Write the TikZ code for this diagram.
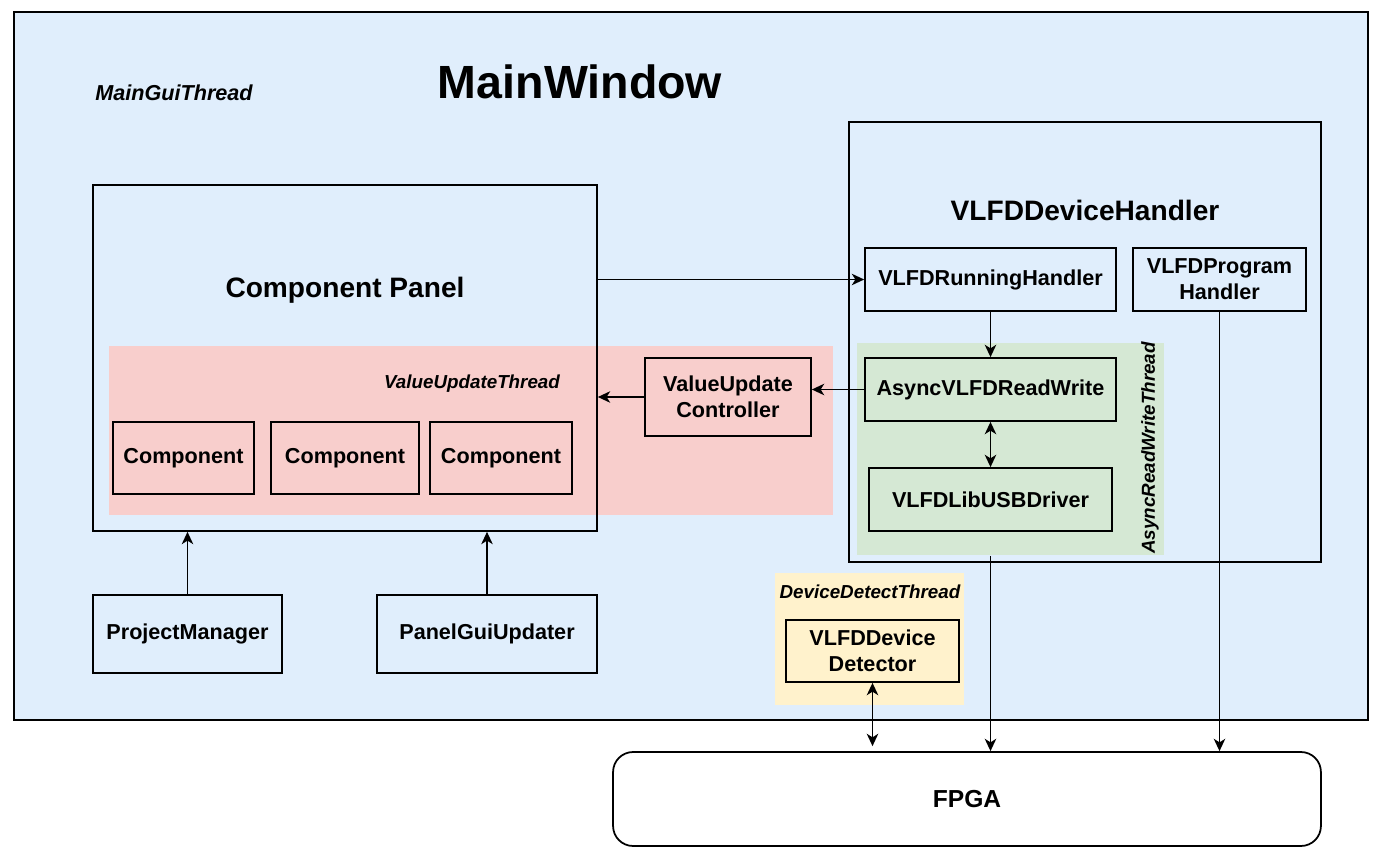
\documentclass[tikz,border=0pt]{standalone}
\usepackage{fontspec}
\setmainfont{Liberation Sans}
\usepackage{xcolor}
\usepackage{tikz}
\usetikzlibrary{arrows.meta}
\definecolor{guiblue}{RGB}{224,238,252}
\definecolor{valuepink}{HTML}{F8CECC}
\definecolor{asyncgreen}{HTML}{D5E8D4}
\definecolor{detectyellow}{HTML}{FFF2CC}
\tikzset{edge/.style = {->,> = {Stealth[length=7pt,width=6.5pt,inset=2pt]}, line width=1pt}}
\tikzset{dedge/.style = {<->,> = {Stealth[length=7pt,width=6.5pt,inset=2pt]}, line width=1pt}}

\begin{document}
\begin{tikzpicture}[x=0.02cm,y=-0.02cm,line width=1pt,
    box/.style={rectangle,draw,inner sep=0pt,align=center,font=\fontsize{12.3}{14.7}\selectfont\bfseries},
    region/.style={rectangle,inner sep=0pt},
    title/.style={font=\fontsize{16}{19}\selectfont\bfseries},
    thread/.style={font=\fontsize{10.7}{12}\selectfont\bfseries\itshape}]
    \useasboundingbox (0,0) rectangle (1390,858);

    % regions
    \node[region,draw,fill=guiblue,minimum width=27.08cm,minimum height=14.16cm] (mainthread) at (691,366) {};
    \node[region,fill=valuepink,minimum width=14.48cm,minimum height=3.38cm] (valuethread) at (471,430.5) {};
    \node[region,fill=asyncgreen,minimum width=6.14cm,minimum height=4.24cm] (asyncthread) at (1010.5,449) {};
    \node[region,fill=detectyellow,minimum width=3.78cm,minimum height=2.64cm] (detectthread) at (869.5,639) {};

    % labels
    \node[font=\fontsize{26.5}{30}\selectfont\bfseries] (mainwindow) at (580,82) {MainWindow};
    \node[thread,font=\fontsize{12.3}{14}\selectfont\bfseries\itshape] (guilabel) at (174,93) {MainGuiThread};
    \node[thread] (valuelabel) at (472,384) {ValueUpdateThread};
    \node[thread,rotate=90] (asynclabel) at (1150,448) {AsyncReadWriteThread};
    \node[thread] (detectlabel) at (870,592) {DeviceDetectThread};

    % main window parts
    \node[box,minimum width=10.08cm,minimum height=6.92cm] (cpanel) at (345,358) {};
    \node[title] (cpaneltitle) at (345,290) {Component Panel};
    \node[box,fill=valuepink,minimum width=2.82cm,minimum height=1.44cm] (comp1) at (183.5,458) {Component};
    \node[box,fill=valuepink,minimum width=2.96cm,minimum height=1.44cm] (comp2) at (345,458) {Component};
    \node[box,fill=valuepink,minimum width=2.84cm,minimum height=1.44cm] (comp3) at (501,458) {Component};
    \node[box,fill=valuepink,minimum width=3.32cm,minimum height=1.56cm] (valuectrl) at (728,397) {ValueUpdate\\Controller};
    \node[box,minimum width=3.78cm,minimum height=1.56cm] (projmgr) at (187.5,634) {ProjectManager};
    \node[box,minimum width=4.4cm,minimum height=1.56cm] (panelgui) at (487,634) {PanelGuiUpdater};

    % device handler
    \node[box,minimum width=9.44cm,minimum height=8.8cm] (handler) at (1085,342) {};
    \node[title] (handlertitle) at (1085,210) {VLFDDeviceHandler};
    \node[box,minimum width=5.02cm,minimum height=1.26cm] (running) at (990.5,279.5) {VLFDRunningHandler};
    \node[box,minimum width=3.46cm,minimum height=1.26cm] (program) at (1219.5,279.5) {VLFDProgram\\Handler};
    \node[box,fill=asyncgreen,minimum width=5.02cm,minimum height=1.26cm] (asyncrw) at (990.5,389.5) {AsyncVLFDReadWrite};
    \node[box,fill=asyncgreen,minimum width=4.86cm,minimum height=1.26cm] (libusb) at (990.5,499.5) {VLFDLibUSBDriver};
    \node[box,fill=detectyellow,minimum width=3.46cm,minimum height=1.24cm] (detector) at (872.5,651) {VLFDDevice\\Detector};

    \node[box,fill=white,rounded corners=0.4cm,minimum width=14.16cm,minimum height=1.88cm,font=\fontsize{14}{17}\selectfont\bfseries] (fpga) at (967,799) {FPGA};

    % connections
    \draw[edge] (cpanel.east |- running.west) -- (running.west);
    \draw[edge] (running.south) -- (asyncrw.north);
    \draw[edge] (asyncrw.west) -- (valuectrl.east |- asyncrw.west);
    \draw[edge] (valuectrl.west) -- (cpanel.east |- valuectrl.west);
    \draw[dedge] (asyncrw.south) -- (libusb.north);
    \draw[edge] (asyncthread.south -| libusb.south) -- (fpga.north -| libusb.south);
    \draw[edge] (program.south) -- (fpga.north -| program.south);
    \draw[dedge] (detector.south) -- ([yshift=0.1cm]fpga.north -| detector.south);
    \draw[edge] (projmgr.north) -- (cpanel.south -| projmgr.north);
    \draw[edge] (panelgui.north) -- (cpanel.south -| panelgui.north);
\end{tikzpicture}
\end{document}
